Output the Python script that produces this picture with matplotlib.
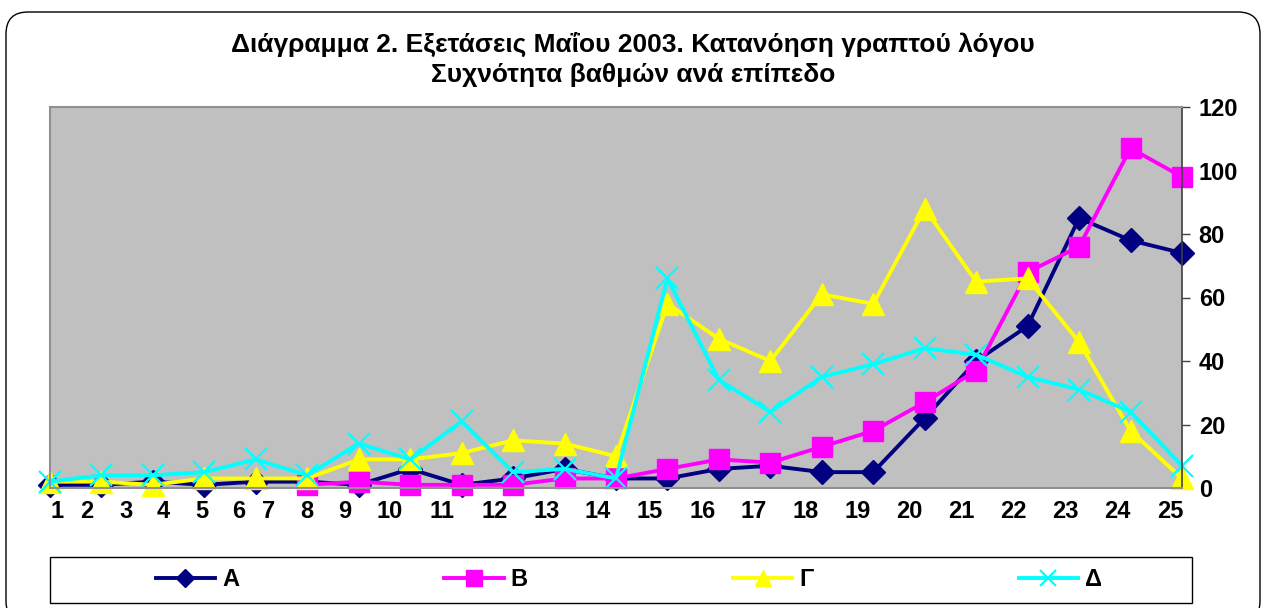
import numpy as np
import matplotlib.pyplot as plt
from matplotlib.patches import FancyBboxPatch, Rectangle

plt.rcParams['font.family'] = ['Liberation Sans', 'DejaVu Sans']
plt.rcParams['font.weight'] = 'bold'

# 23 data points along the category axis
a_vals = [1, 1, 2, 1, 2, 2, 1, 6, 1, 3, 6, 3, 3, 6, 7, 5, 5, 22, 40, 51, 85, 78, 74]
b_vals = [np.nan] * 5 + [1, 2, 1, 1, 1, 3, 3, 6, 9, 8, 13, 18, 27, 37, 68, 76, 107, 98]
c_vals = [2, 2, 1, 3, 3, 3, 9, 9, 11, 15, 14, 10, 58, 47, 40, 61, 58, 88, 65, 66, 46, 18, 3]
d_vals = [2, 4, 4, 5, 9, 4, 14, 9, 21, 5, 6, 3, 66, 34, 24, 35, 39, 44, 42, 35, 31, 24, 7]

# tick labels 1..25 sit where the original chart put them
tick_labels = [str(i) for i in range(1, 26)]
tick_pos = [0.14, 0.72, 1.48, 2.2, 2.95, 3.67, 4.24, 4.99, 5.73, 6.61,
            7.62, 8.65, 9.66, 10.65, 11.66, 12.69, 13.68, 14.69, 15.7,
            16.71, 17.71, 18.72, 19.73, 20.74, 21.77]

W, H = 1266, 608
fig = plt.figure(figsize=(W / 100, H / 100), dpi=100)
ax = fig.add_axes([50 / W, 1 - 488 / H, (1182 - 50) / W, (488 - 107) / H])
ax.set_facecolor('#C0C0C0')

x = np.arange(len(a_vals))
lw = 2.8
ax.plot(x, a_vals, color='#000080', lw=lw, marker='D', ms=12, label='A', clip_on=False)
ax.plot(x, b_vals, color='#FF00FF', lw=lw, marker='s', ms=14.5, label='B', clip_on=False)
ax.plot(x, c_vals, color='#FFFF00', lw=lw, marker='^', ms=16, label='Γ', clip_on=False)
ax.plot(x, d_vals, color='#00FFFF', lw=lw, marker='x', ms=16, mew=1.6, label='Δ', clip_on=False)

ax.set_xlim(0, 22)
ax.set_ylim(0, 120)
ax.set_yticks(np.arange(0, 121, 20))
ax.yaxis.tick_right()
ax.tick_params(axis='y', direction='out', length=6, width=1, colors='#404040',
               labelcolor='black', labelsize=17, pad=6)
ax.set_xticks(tick_pos)
ax.set_xticklabels(tick_labels)
ax.tick_params(axis='x', length=0, labelsize=17, pad=9)
for lab in ax.get_xticklabels() + ax.get_yticklabels():
    lab.set_fontweight('bold')

for s in ['left', 'bottom', 'top']:
    ax.spines[s].set_color('#909090')
    ax.spines[s].set_linewidth(1.5)
ax.spines['right'].set_color('#404040')
ax.spines['right'].set_linewidth(1.2)

fig.text(633 / W, 1 - 44 / H, 'Διάγραμμα 2. Εξετάσεις Μαΐου 2003. Κατανόηση γραπτού λόγου',
         ha='center', va='center', fontsize=19, fontweight='bold')
fig.text(633 / W, 1 - 75 / H, 'Συχνότητα βαθμών ανά επίπεδο',
         ha='center', va='center', fontsize=19, fontweight='bold')

# legend box spans the whole plot width; entries sit inside it
fig.patches.append(Rectangle((50 / W, 1 - 603 / H), 1142 / W, 46 / H,
                             transform=fig.transFigure, fill=True, fc='white',
                             ec='black', lw=1))
leg = fig.legend(loc='center', ncol=4,
                 bbox_to_anchor=(58 / W, 1 - 603 / H, 1142 / W, 46 / H),
                 fontsize=17, handlelength=2.5, handletextpad=0.3,
                 columnspacing=8.7, markerscale=0.75, borderpad=0.35,
                 borderaxespad=0, frameon=False)
for t in leg.get_texts():
    t.set_fontweight('bold')

border = FancyBboxPatch((6, -15), W - 12, H - 6 + 15 - 6,
                        boxstyle='round,pad=0,rounding_size=22',
                        transform=None, fill=False, ec='black', lw=1)
fig.patches.append(border)

fig.savefig('out.png', dpi=100)
